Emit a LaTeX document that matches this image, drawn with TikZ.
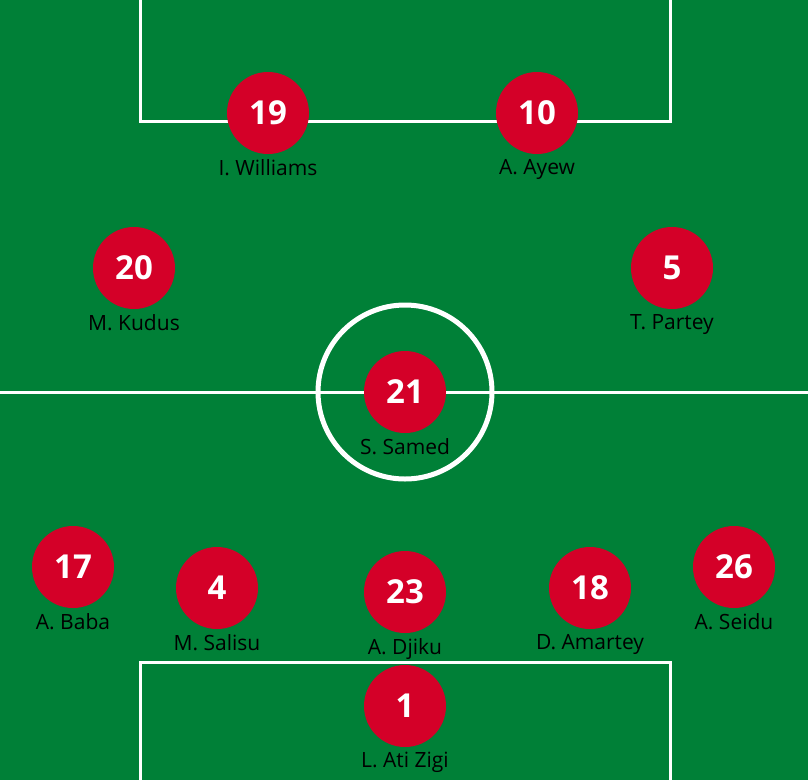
\documentclass[tikz,border=0pt]{standalone}
\usepackage{fontspec}
\setmainfont{Open Sans}
\usepackage{xcolor}
\usetikzlibrary{positioning}
\definecolor{pitch}{HTML}{008037}
\definecolor{shirt}{HTML}{D40028}

\begin{document}
\begin{tikzpicture}[
  x=1pt, y=-1pt,
  line/.style={draw=white, line width=3pt},
  playerdot/.style={circle, fill=shirt, minimum size=82pt, inner sep=0pt,
                 text=white, font=\fontsize{33}{33}\selectfont\bfseries},
  playername/.style={font=\fontsize{21}{21}\selectfont, text=black, inner sep=0pt}]

\fill[pitch] (0,0) rectangle (808,780);
\useasboundingbox (0,0) rectangle (808,780);

% pitch markings
\draw[line] (140,-5) -- (140,121) -- (670,121) -- (670,-5);
\draw[line] (140,785) -- (140,662) -- (670,662) -- (670,785);
\draw[line] (0,392) -- (808,392);
\draw[draw=white, line width=5pt] (405,392) circle (87);

% players
\foreach \px/\py/\num/\who in {268/113/19/I. Williams, 537/113/10/A. Ayew,
    134/268/20/M. Kudus, 672/268/5/T. Partey, 405/392/21/S. Samed,
    73/567/17/A. Baba, 217/588/4/M. Salisu, 405/592/23/A. Djiku,
    590/588/18/D. Amartey, 734/567/26/A. Seidu, 405/706/1/L. Ati Zigi}
{
  \node[playerdot] (p\num) at (\px,\py) {\num};
  \node[playername, below=5pt of p\num] (n\num) {\who};
}
\end{tikzpicture}
\end{document}
